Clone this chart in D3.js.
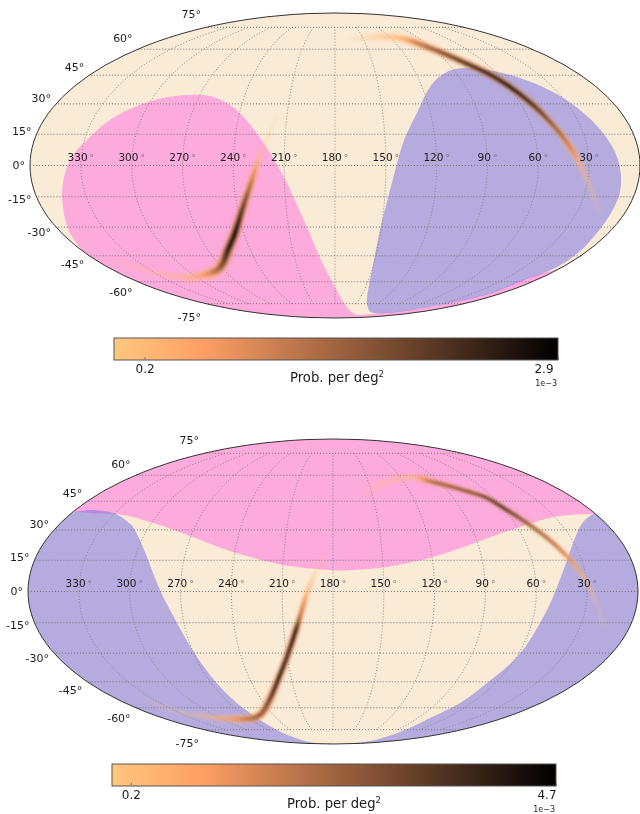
<!DOCTYPE html>
<html><head><meta charset="utf-8"><style>html,body{margin:0;background:#fff}svg{display:block;filter:blur(.35px)}text{font-family:"DejaVu Sans",sans-serif;fill:#1c1c1c}</style>
<script src="https://cdn.jsdelivr.net/npm/d3@7"></script></head><body><svg id="c" width="640" height="814"></svg>
<script>
// ---- data: [RA deg, Dec deg] ----
const pinkA=[[359.9,-43.5],[354.4,-33.0],[346.8,-20.0],[344.2,-14.2],[341.6,-8.4],[335.5,4.1],[327.2,13.7],[317.9,23.0],[301.4,31.0],[278.5,34.5],[262.9,34.0],[245.2,28.4],[230.6,18.5],[218.5,6.0],[208.5,-8.4],[198.1,-29.9],[191.1,-46.2],[180.0,-63.3],[161.0,-77.7],[138.2,-83.2],[99.3,-85.3],[75.4,-83.2],[35.6,-79.0],[25.5,-74.1],[13.3,-67.3],[13.0,-58.6],[6.1,-54.4],[1.7,-53.0]];
const blueA=[[87.0,-83.2],[48.3,-82.2],[28.2,-76.5],[23.1,-74.5],[11.7,-67.6],[11.1,-59.2],[4.9,-52.7],[5.0,-44.0],[7.6,-33.0],[8.6,-23.0],[9.2,-13.2],[10.4,-6.9],[13.3,4.1],[18.1,15.6],[24.8,26.9],[33.2,36.1],[46.7,43.5],[64.9,47.9],[81.8,49.0],[96.3,46.8],[114.6,38.7],[128.5,25.4],[139.4,10.8],[147.1,-11.8],[150.7,-31.5],[150.0,-53.0],[142.7,-70.0],[125.3,-78.5]];
const blueB=[[1.8,38.2],[14.2,34.0],[24.1,28.4],[37.6,16.6],[47.7,2.2],[55.1,-15.1],[59.8,-32.0],[66.4,-45.7],[70.1,-57.1],[77.5,-66.6],[78.3,-76.9],[66.1,-87.2],[180,-89.6],[272.9,-88.0],[258.8,-81.2],[260.0,-67.9],[265.0,-49.5],[268.9,-32.0],[274.1,-15.1],[282.1,0.7],[292.7,16.6],[310.3,31.5],[315.9,34.0],[326.7,37.6],[331.4,38.7],[342.3,40.0],[349.7,40.3],[358.4,39.2]];
const pinkB=[[359.4,39.0],[347.3,38.7],[340.0,38.4],[330.8,38.2],[298.9,33.5],[268.5,26.4],[241.1,19.0],[210.0,12.7],[181.8,10.3],[168.1,10.3],[147.7,11.8],[119.4,16.6],[90.2,23.9],[58.2,31.5],[31.2,36.6],[1.8,38.2]];
const bandA1=[[215.8,25.4],[220.3,13.7],[224.4,5.0],[229.2,-6.9],[236.4,-20.0],[245.8,-33.0],[255.9,-41.9],[271.7,-51.8],[291.9,-55.9],[314.1,-57.1],[330.1,-54.1],[342.0,-50.1],[351.4,-47.3]];
const probA1=[.05,.08,.25,1.1,2.1,2.9,2.6,1.6,.65,.28,.14,.08,.03];
const bandA2=[[164.4,65.9],[134.0,67.9],[110.1,67.3],[92.0,60.8],[77.1,52.4],[67.2,46.2],[59.5,38.7],[52.7,29.4],[46.6,19.5],[40.3,8.9],[33.6,-2.2],[25.8,-13.2],[15.4,-23.0]];
const probA2=[.05,.22,.5,1.5,2.3,2.6,2.9,2.4,1.7,1.0,.38,.14,.05];
const bandB1=[[184.9,18.5],[190.7,8.9],[195.3,-0.7],[199.8,-12.2],[202.6,-18.5],[210.1,-32.0],[219.9,-44.0],[236.2,-57.1],[258.9,-65.9],[283.3,-67.3],[307.8,-65.9],[327.3,-62.7],[339.6,-55.3]];
const probB1=[.07,.3,.9,2.2,4.5,4.0,4.4,3.0,2.5,1.4,.5,.16,.04];
const bandB2=[[156.8,49.5],[134.2,55.9],[108.5,58.9],[95.2,55.9],[77.2,51.2],[65.0,46.8],[60.2,41.9],[51.9,33.5],[43.1,23.5],[35.8,13.7],[29.9,4.1],[22.8,-7.4],[16.2,-17.1]];
const probB2=[.1,.25,.5,2.4,3.2,3.8,4.7,3.0,2.3,1.2,.55,.28,.09];
const widthA1=[3,4,5,6,7,8,9,9,8,6,5,4,4], widthA2=[5,8,7,6,6,6,6,6,5,6,5,5,6];
const widthB1=[4,4,5,5,6,6,6,7,7,6,5,5,4], widthB2=[6,8,5,5,4,4,4,4,4,4,4,3,3];
const raTicks=[330,300,270,240,210,180,150,120,90,60,30];
const decTicks=[75,60,45,30,15,0,-15,-30,-45,-60,-75];
const colorStops=[0,.2,1], colorVals=["#ffc77f","#ff9f66","#000000"];
const maxA=2.9, maxB=4.7, lowTick=0.2;

// ---- helpers ----
function mollweideRaw(l,p){let t=p;const k=Math.PI*Math.sin(p);
  if(Math.abs(Math.abs(p)-Math.PI/2)>1e-9){for(let i=0;i<40;i++){const d=(t+Math.sin(t)-k)/(1+Math.cos(t));t-=d;if(Math.abs(d)<1e-9)break}t/=2}
  return [2*Math.SQRT2/Math.PI*l*Math.cos(t),Math.SQRT2*Math.sin(t)]}
const rad=Math.PI/180;
const cart=([r,d])=>[Math.cos(d*rad)*Math.cos(r*rad),Math.cos(d*rad)*Math.sin(r*rad),Math.sin(d*rad)];
const sph=v=>[Math.atan2(v[1],v[0])/rad,Math.asin(v[2]/Math.hypot(...v))/rad];
const mix=(a,b,ta,tb,t)=>a.map((x,i)=>(tb-t)/(tb-ta)*x+(t-ta)/(tb-ta)*b[i]);
// centripetal Catmull-Rom on the sphere: only smooths the drawing between the read points
function smooth(pts,closed,n){
  const v=pts.map(cart),N=v.length,out=[],refl=(a,b)=>a.map((x,i)=>2*x-b[i]);
  const segs=closed?N:N-1;
  for(let i=0;i<segs;i++){
    const p1=v[i],p2=v[(i+1)%N];
    const p0=closed?v[(i-1+N)%N]:(i>0?v[i-1]:refl(p1,p2));
    const p3=closed?v[(i+2)%N]:(i+2<N?v[i+2]:refl(p2,p1));
    const dt=(a,b)=>Math.max(1e-6,Math.sqrt(Math.hypot(a[0]-b[0],a[1]-b[1],a[2]-b[2])));
    const t0=0,t1=t0+dt(p0,p1),t2=t1+dt(p1,p2),t3=t2+dt(p2,p3);
    for(let k=0;k<n;k++){const t=t1+(t2-t1)*k/n;
      const a1=mix(p0,p1,t0,t1,t),a2=mix(p1,p2,t1,t2,t),a3=mix(p2,p3,t2,t3,t);
      const b1=mix(a1,a2,t0,t2,t),b2=mix(a2,a3,t1,t3,t);
      out.push(sph(mix(b1,b2,t1,t2,t)));}
  }
  if(!closed)out.push(pts[N-1]);
  return out;
}
const svg=d3.select("#c"),defs=svg.append("defs");
const blur=defs.append("filter").attr("id","bl").attr("filterUnits","userSpaceOnUse").attr("x",0).attr("y",0).attr("width",640).attr("height",814);
blur.append("feGaussianBlur").attr("stdDeviation",1.4);
function poly(raw){const r=smooth(raw,true,8);let g={type:"Polygon",coordinates:[[...r,r[0]]]};
  if(d3.geoArea(g)>2*Math.PI)g={type:"Polygon",coordinates:[[...r,r[0]].reverse()]};return g}
let gid=0;

function panel(o){
  const proj=d3.geoProjection(mollweideRaw).rotate([-180,0]).reflectX(true).scale(305/(2*Math.SQRT2)).translate([o.cx,o.cy]).precision(.2);
  const path=d3.geoPath(proj),g=svg.append("g");
  g.append("path").datum({type:"Sphere"}).attr("d",path).attr("fill","#faebd7");
  g.append("path").datum(poly(o.pink)).attr("d",path).attr("fill","#ff69e1").attr("fill-opacity",.5);
  g.append("path").datum(poly(o.blue)).attr("d",path).attr("fill","#706be5").attr("fill-opacity",.5);
  const merid=raTicks.map(r=>({type:"LineString",coordinates:d3.range(-75,75.1,5).map(d=>[r,d])}));
  const paral=decTicks.map(d=>({type:"LineString",coordinates:d3.range(.05,360,3).concat([359.95]).map(r=>[r,d])}));
  g.selectAll("path.m").data(merid).join("path").attr("class","m").attr("d",path).attr("fill","none").attr("stroke","#808080").attr("stroke-width",.9).attr("stroke-dasharray","1 2");
  g.selectAll("path.p").data(paral).join("path").attr("class","p").attr("d",path).attr("fill","none").attr("stroke","#707070").attr("stroke-width",1).attr("stroke-dasharray","1 2");
  // probability band: nested strokes, pale outside and dark in the core
  const col=d3.scaleLinear().domain(colorStops.map(s=>s*o.max)).range(colorVals).clamp(true);
  const alpha=v=>Math.min(1,.03+v/o.max*2.6);
  const bg=g.append("g").attr("filter","url(#bl)");
  const SUB=6;
  [[1.5,.25,.4],[.95,.6,.8],[.55,1,1]].forEach(([wf,vf,af])=>{
    o.bands.forEach(b=>{
      const dense=smooth(b.pts,false,SUB);
      for(let i=0;i<dense.length-1;i++){
        const j=Math.floor(i/SUB),f=(i%SUB+.5)/SUB;
        const v=b.val[j]*(1-f)+b.val[j+1]*f,w=b.w[j]*(1-f)+b.w[j+1]*f;
        bg.append("path").datum({type:"LineString",coordinates:[dense[i],dense[i+1]]}).attr("d",path).attr("fill","none")
          .attr("stroke",col(v*vf)).attr("stroke-opacity",alpha(v)*af).attr("stroke-width",w*wf);
      }});});
  g.append("path").datum({type:"Sphere"}).attr("d",path).attr("fill","none").attr("stroke","#333").attr("stroke-width",1);
  // longitude labels
  g.selectAll("text.ra").data(raTicks).join("text").attr("class","ra").attr("text-anchor","middle").attr("font-size",10.5)
    .attr("x",r=>proj([r,0])[0]).attr("y",o.cy-4.3)
    .each(function(r){const t=d3.select(this);t.append("tspan").text(r);t.append("tspan").attr("dx",2).attr("font-size",9).attr("style","fill:#777").text("°")});
  // latitude labels
  g.selectAll("text.dec").data(decTicks).join("text").attr("class","dec").attr("text-anchor","end").attr("font-size",11).attr("dy",".35em")
    .attr("x",d=>proj([359.99,d])[0]-5).attr("y",d=>proj([359.99,d])[1]-d*.18).text(d=>d+"°");
  // colour bar
  const x=d3.scaleLinear().domain([0,o.max]).range([o.bx0,o.bx1]),cid="cb"+(gid++);
  const lg=defs.append("linearGradient").attr("id",cid);
  colorStops.forEach((s,i)=>lg.append("stop").attr("offset",s).attr("stop-color",colorVals[i]));
  const bar=svg.append("g");
  bar.append("rect").attr("x",o.bx0).attr("y",o.by).attr("width",o.bx1-o.bx0).attr("height",22).attr("fill",`url(#${cid})`).attr("stroke","#555").attr("stroke-width",1);
  const ax=bar.append("g").attr("transform",`translate(0,${o.by+22})`).call(d3.axisBottom(x).tickValues([lowTick,o.max]).tickFormat(d3.format(".1f")).tickSizeInner(-3).tickSizeOuter(0).tickPadding(4));
  ax.select(".domain").remove();
  ax.selectAll("line").attr("stroke","#777");
  ax.selectAll("text").attr("font-size",12).attr("font-family",null).attr("dx",d=>d===o.max?o.shift:0);
  const lab=bar.append("text").attr("x",o.labX).attr("y",o.by+43.7).attr("text-anchor","middle").attr("font-size",13.2);
  lab.append("tspan").text("Prob. per deg");lab.append("tspan").attr("font-size",8.5).attr("dy",-5).text("2");
  bar.append("text").attr("x",o.bx1-1).attr("y",o.by+47.5).attr("text-anchor","end").attr("font-size",8).text("1e\u22123");
}
panel({cx:335,cy:165.5,pink:pinkA,blue:blueA,max:maxA,bx0:114,bx1:558,by:338,labX:337,shift:-14.5,
  bands:[{pts:bandA1,val:probA1,w:widthA1},{pts:bandA2,val:probA2,w:widthA2}]});
panel({cx:333,cy:591.5,pink:pinkB,blue:blueB,max:maxB,bx0:112,bx1:556,by:764,labX:334,shift:-9.5,
  bands:[{pts:bandB1,val:probB1,w:widthB1},{pts:bandB2,val:probB2,w:widthB2}]});
</script></body></html>
